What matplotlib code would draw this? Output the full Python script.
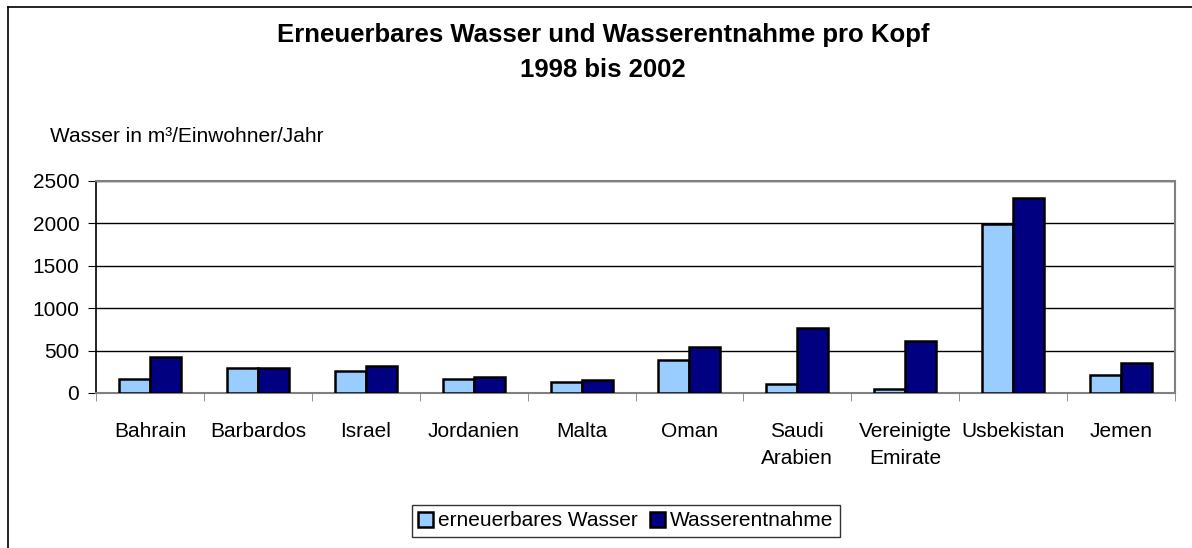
import numpy as np
import matplotlib.pyplot as plt
from matplotlib.lines import Line2D

plt.rcParams['font.family'] = ['Liberation Sans', 'DejaVu Sans']

# data
laender = ['Bahrain', 'Barbardos', 'Israel', 'Jordanien', 'Malta', 'Oman',
           'Saudi\nArabien', 'Vereinigte\nEmirate', 'Usbekistan', 'Jemen']
erneuerbar = [160, 290, 263, 161, 130, 389, 106, 43, 1989, 212]
entnahme = [428, 290, 318, 192, 153, 539, 763, 613, 2300, 350]

fig = plt.figure(figsize=(11.92, 5.48), dpi=100)
ax = fig.add_axes([96/1192, 1-393/548, (1175-96)/1192, (393-181)/548])

x = np.arange(len(laender))
w = 0.287
ax.bar(x - w/2, erneuerbar, w, color='#99ccff', edgecolor='black', linewidth=1.8,
       label='erneuerbares Wasser', zorder=3)
ax.bar(x + w/2, entnahme, w, color='#000080', edgecolor='black', linewidth=1.8,
       label='Wasserentnahme', zorder=3)

ax.set_xlim(-0.5, len(laender) - 0.5)
ax.set_ylim(0, 2500)
ax.set_yticks([0, 500, 1000, 1500, 2000, 2500])
ax.yaxis.grid(True, color='black', linewidth=1, zorder=0)
ax.set_xticks(x)
ax.set_xticklabels(laender, fontsize=15, linespacing=1.55, va='top')
ax.set_xticks(np.arange(-0.5, len(laender)), minor=True)
ax.tick_params(axis='x', which='major', length=0, pad=21)
ax.tick_params(axis='x', which='minor', length=6, direction='out', color='#808080')
ax.tick_params(axis='y', labelsize=15, length=6, direction='out', pad=6)
for s in ['top', 'right', 'bottom']:
    ax.spines[s].set_color('#808080')
    ax.spines[s].set_linewidth(1.5)
ax.spines['left'].set_color('black')
ax.spines['left'].set_linewidth(1.2)

fig.text(603/1192, 1-35/548, 'Erneuerbares Wasser und Wasserentnahme pro Kopf',
         ha='center', va='center', fontsize=18.5, fontweight='bold')
fig.text(603/1192, 1-70/548, '1998 bis 2002', ha='center', va='center',
         fontsize=18.5, fontweight='bold')
fig.text(50/1192, 1-137/548, 'Wasser in m³/Einwohner/Jahr', ha='left', va='center',
         fontsize=15)

leg = fig.legend(loc='center', bbox_to_anchor=(626/1192, 1-521/548), ncol=2,
                 fontsize=15, frameon=True, fancybox=False, edgecolor='black',
                 handlelength=0.7, handleheight=0.7, handletextpad=0.25,
                 columnspacing=0.6, borderpad=0.3, borderaxespad=0)
leg.get_frame().set_linewidth(1)

# frame lines on left and top only, as in the reference
fig.add_artist(Line2D([8/1192, 8/1192], [0, 1-7/548], transform=fig.transFigure,
                      color='black', linewidth=1.2))
fig.add_artist(Line2D([8/1192, 1], [1-7/548, 1-7/548], transform=fig.transFigure,
                      color='black', linewidth=1.2))

plt.savefig('out.png', dpi=100)
